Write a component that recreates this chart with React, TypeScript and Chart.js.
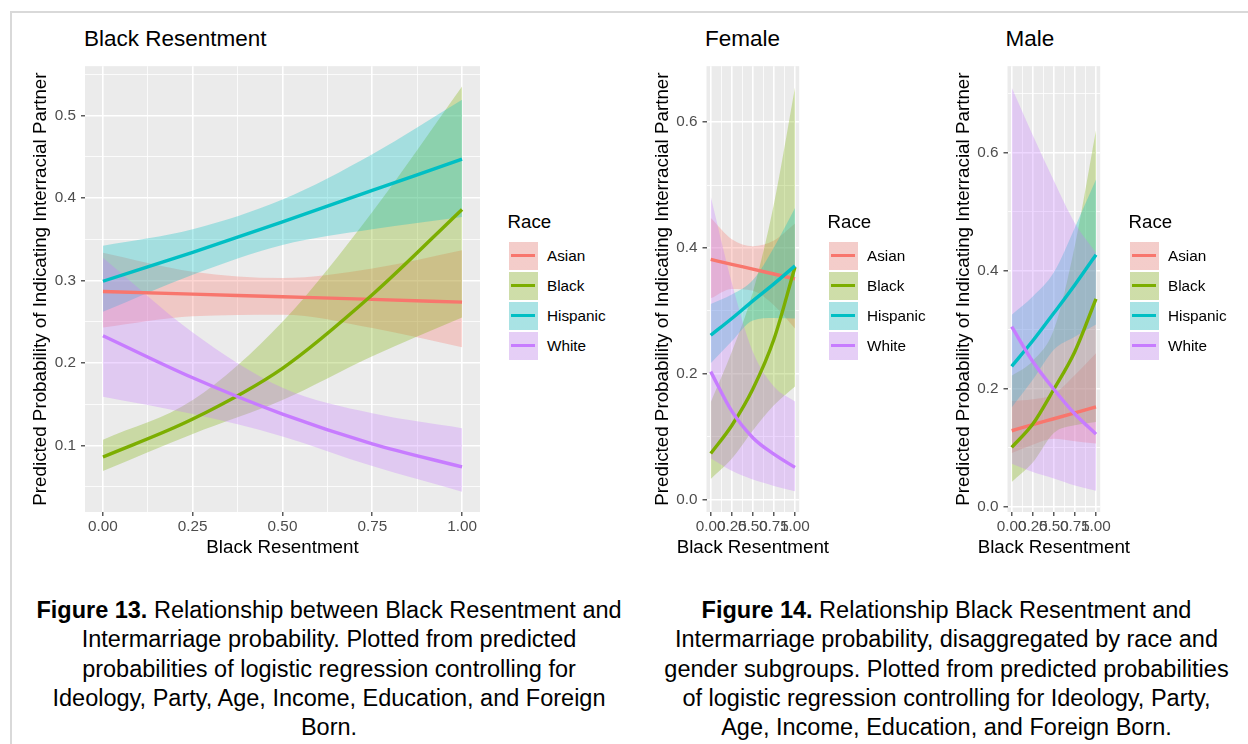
import React, { useEffect, useRef } from 'react';
import { Chart, registerables } from 'chart.js';

Chart.register(...registerables);

const FONT = '"Liberation Sans", Arimo, Arial, Helvetica, sans-serif';

// ---------------- data ----------------
const resentment = [0, 0.25, 0.5, 0.75, 1];
const raceNames = ['Asian', 'Black', 'Hispanic', 'White'];
const raceColors = ['#F8766D', '#7CAE00', '#00BFC4', '#C77CFF'];

const xMajorTicks = [0, 0.25, 0.5, 0.75, 1];
const xMinorTicks = [0.125, 0.375, 0.625, 0.875];
const yMajorAll = [0.1, 0.2, 0.3, 0.4, 0.5];
const yMinorAll = [0.05, 0.15, 0.25, 0.35, 0.45, 0.55];
const yMajorSex = [0, 0.2, 0.4, 0.6];
const yMinorFemale = [0.1, 0.3, 0.5];
const yMinorMale = [0.1, 0.3, 0.5, 0.7];

// Figure 13: all respondents
const allAsianFit = [0.2866, 0.2834, 0.2802, 0.277, 0.2737];
const allAsianLow = [0.243, 0.2565, 0.2585, 0.2424, 0.219];
const allAsianHigh = [0.3335, 0.3106, 0.303, 0.3146, 0.3367];
const allBlackFit = [0.086, 0.132, 0.1935, 0.2826, 0.386];
const allBlackLow = [0.069, 0.114, 0.155, 0.208, 0.255];
const allBlackHigh = [0.107, 0.155, 0.25, 0.383, 0.535];
const allHispanicFit = [0.299, 0.334, 0.371, 0.409, 0.447];
const allHispanicLow = [0.262, 0.307, 0.343, 0.362, 0.377];
const allHispanicHigh = [0.342, 0.362, 0.398, 0.453, 0.519];
const allWhiteFit = [0.233, 0.182, 0.138, 0.102, 0.074];
const allWhiteLow = [0.159, 0.138, 0.111, 0.075, 0.044];
const allWhiteHigh = [0.3275, 0.237, 0.17, 0.139, 0.121];

// Figure 14: female
const femAsianFit = [0.382, 0.374, 0.3665, 0.3587, 0.351];
const femAsianLow = [0.32, 0.335, 0.332, 0.309, 0.272];
const femAsianHigh = [0.448, 0.414, 0.403, 0.412, 0.439];
const femBlackFit = [0.0734, 0.118, 0.176, 0.255, 0.37];
const femBlackLow = [0.033, 0.065, 0.11, 0.15, 0.18];
const femBlackHigh = [0.155, 0.235, 0.33, 0.47, 0.655];
const femHispanicFit = [0.2614, 0.288, 0.316, 0.343, 0.3717];
const femHispanicLow = [0.217, 0.252, 0.285, 0.289, 0.288];
const femHispanicHigh = [0.311, 0.326, 0.349, 0.401, 0.4635];
const femWhiteFit = [0.2036, 0.1407, 0.0986, 0.0724, 0.0514];
const femWhiteLow = [0.066, 0.046, 0.032, 0.022, 0.0136];
const femWhiteHigh = [0.482, 0.345, 0.235, 0.18, 0.156];

// Figure 14: male
const maleAsianFit = [0.1287, 0.139, 0.149, 0.159, 0.169];
const maleAsianLow = [0.091, 0.105, 0.115, 0.111, 0.107];
const maleAsianHigh = [0.179, 0.182, 0.191, 0.223, 0.26];
const maleBlackFit = [0.1007, 0.14, 0.199, 0.263, 0.352];
const maleBlackLow = [0.042, 0.075, 0.125, 0.138, 0.1437];
const maleBlackHigh = [0.222, 0.247, 0.3, 0.443, 0.6376];
const maleHispanicFit = [0.2378, 0.281, 0.328, 0.376, 0.4268];
const maleHispanicLow = [0.168, 0.215, 0.266, 0.288, 0.3086];
const maleHispanicHigh = [0.325, 0.356, 0.397, 0.473, 0.554];
const maleWhiteFit = [0.305, 0.246, 0.199, 0.157, 0.123];
const maleWhiteLow = [0.073, 0.059, 0.048, 0.036, 0.027];
const maleWhiteHigh = [0.71, 0.629, 0.552, 0.48, 0.43];

type Band = { fit: number[]; low: number[]; high: number[] };

const allBands: Band[] = [
  { fit: allAsianFit, low: allAsianLow, high: allAsianHigh },
  { fit: allBlackFit, low: allBlackLow, high: allBlackHigh },
  { fit: allHispanicFit, low: allHispanicLow, high: allHispanicHigh },
  { fit: allWhiteFit, low: allWhiteLow, high: allWhiteHigh },
];
const femBands: Band[] = [
  { fit: femAsianFit, low: femAsianLow, high: femAsianHigh },
  { fit: femBlackFit, low: femBlackLow, high: femBlackHigh },
  { fit: femHispanicFit, low: femHispanicLow, high: femHispanicHigh },
  { fit: femWhiteFit, low: femWhiteLow, high: femWhiteHigh },
];
const maleBands: Band[] = [
  { fit: maleAsianFit, low: maleAsianLow, high: maleAsianHigh },
  { fit: maleBlackFit, low: maleBlackLow, high: maleBlackHigh },
  { fit: maleHispanicFit, low: maleHispanicLow, high: maleHispanicHigh },
  { fit: maleWhiteFit, low: maleWhiteLow, high: maleWhiteHigh },
];

const X_TITLE = 'Black Resentment';
const Y_TITLE = 'Predicted Probability of Indicating Interracial Partner';

// ---------------- helpers ----------------
function hexToRgba(hex: string, a: number) {
  const n = parseInt(hex.slice(1), 16);
  return `rgba(${(n >> 16) & 255},${(n >> 8) & 255},${n & 255},${a})`;
}

const AXIS_TITLE_SIZE = 18.8;

const panelBg = {
  id: 'panelBg',
  beforeDraw(chart: any) {
    const { ctx, chartArea: a } = chart;
    ctx.save();
    ctx.fillStyle = '#EBEBEB';
    ctx.fillRect(a.left, a.top, a.right - a.left, a.bottom - a.top);
    ctx.restore();
  },
};

// x-axis title drawn without Chart.js' maxWidth squeeze (ggplot lets it overflow)
const xTitlePlugin = {
  id: 'xTitleFree',
  afterDraw(chart: any) {
    const { ctx, chartArea: a } = chart;
    const xs = chart.scales.x;
    ctx.save();
    ctx.font = `${AXIS_TITLE_SIZE}px ${FONT}`;
    ctx.fillStyle = '#000000';
    ctx.textAlign = 'center';
    ctx.textBaseline = 'middle';
    ctx.fillText(X_TITLE, (a.left + a.right) / 2, xs.bottom - (AXIS_TITLE_SIZE * 1.2) / 2);
    ctx.restore();
  },
};

interface PanelProps {
  bands: Band[];
  yMin: number;
  yMax: number;
  yMajor: number[];
  yMinor: number[];
  yDigits: number;
  left: number;
  top: number;
  width: number;
  height: number;
  padL: number;
  padR: number;
  padT: number;
  padB: number;
  yAxisW: number;
  xAxisH: number;
}

function Panel(p: PanelProps) {
  const ref = useRef<HTMLCanvasElement>(null);
  useEffect(() => {
    if (!ref.current) return;
    const pts = (arr: number[]) => resentment.map((x, i) => ({ x, y: arr[i] }));
    const datasets: any[] = [];
    // lines (first index drawn last => White on top)
    for (let r = raceNames.length - 1; r >= 0; r--) {
      datasets.push({
        label: raceNames[r],
        data: pts(p.bands[r].fit),
        borderColor: raceColors[r],
        borderWidth: 3.4,
        fill: false,
        pointRadius: 0,
        cubicInterpolationMode: 'monotone',
      });
    }
    // ribbons
    for (let r = raceNames.length - 1; r >= 0; r--) {
      datasets.push({
        label: raceNames[r] + ' upper',
        data: pts(p.bands[r].high),
        borderWidth: 0,
        borderColor: 'rgba(0,0,0,0)',
        backgroundColor: hexToRgba(raceColors[r], 0.3),
        fill: '+1',
        pointRadius: 0,
        cubicInterpolationMode: 'monotone',
      });
      datasets.push({
        label: raceNames[r] + ' lower',
        data: pts(p.bands[r].low),
        borderWidth: 0,
        borderColor: 'rgba(0,0,0,0)',
        fill: false,
        pointRadius: 0,
        cubicInterpolationMode: 'monotone',
      });
    }
    const xMajSet = new Set(xMajorTicks);
    const yMajSet = new Set(p.yMajor);
    const chart = new Chart(ref.current, {
      type: 'line',
      data: { datasets },
      plugins: [panelBg, xTitlePlugin],
      options: {
        animation: false,
        responsive: false,
        maintainAspectRatio: false,
        devicePixelRatio: 1,
        events: [],
        layout: { padding: { left: p.padL, right: p.padR, top: p.padT, bottom: p.padB } },
        plugins: {
          legend: { display: false },
          tooltip: { enabled: false },
          filler: { drawTime: 'beforeDatasetsDraw', propagate: false },
        },
        scales: {
          x: {
            type: 'linear',
            min: -0.05,
            max: 1.05,
            afterBuildTicks: (s: any) => {
              s.ticks = [...xMajorTicks, ...xMinorTicks].sort((a, b) => a - b).map((v) => ({ value: v }));
            },
            afterFit: (s: any) => {
              s.height = p.xAxisH;
            },
            ticks: {
              autoSkip: false,
              maxRotation: 0,
              minRotation: 0,
              padding: 2,
              color: '#4D4D4D',
              font: { family: FONT, size: 15.3 },
              callback: (v: any) => (xMajSet.has(v) ? Number(v).toFixed(2) : ''),
            },
            grid: {
              color: '#FFFFFF',
              lineWidth: (c: any) => (c.tick && xMajSet.has(c.tick.value) ? 1.6 : 0.8),
              drawTicks: true,
              tickLength: 4,
              tickWidth: 1.2,
              tickColor: (c: any) => (c.tick && xMajSet.has(c.tick.value) ? '#333333' : 'rgba(0,0,0,0)'),
            },
            border: { display: false },
            title: { display: false },
          },
          y: {
            type: 'linear',
            min: p.yMin,
            max: p.yMax,
            afterBuildTicks: (s: any) => {
              s.ticks = [...p.yMajor, ...p.yMinor].sort((a, b) => a - b).map((v) => ({ value: v }));
            },
            afterFit: (s: any) => {
              s.width = p.yAxisW;
            },
            ticks: {
              autoSkip: false,
              padding: 5,
              color: '#4D4D4D',
              font: { family: FONT, size: 15.3 },
              callback: (v: any) => (yMajSet.has(v) ? Number(v).toFixed(p.yDigits) : ''),
            },
            grid: {
              color: '#FFFFFF',
              lineWidth: (c: any) => (c.tick && yMajSet.has(c.tick.value) ? 1.6 : 0.8),
              drawTicks: true,
              tickLength: 4,
              tickWidth: 1.2,
              tickColor: (c: any) => (c.tick && yMajSet.has(c.tick.value) ? '#333333' : 'rgba(0,0,0,0)'),
            },
            border: { display: false },
            title: {
              display: true,
              text: Y_TITLE,
              color: '#000000',
              font: { family: FONT, size: AXIS_TITLE_SIZE },
              padding: 0,
            },
          },
        },
      } as any,
    });
    return () => chart.destroy();
  }, []);
  return (
    <canvas
      ref={ref}
      width={p.width}
      height={p.height}
      style={{ position: 'absolute', left: p.left, top: p.top, width: p.width, height: p.height }}
    />
  );
}

function Text(props: { left: number; baseline: number; size: number; children: any; color?: string }) {
  const { left, baseline, size, children, color } = props;
  return (
    <div
      style={{
        position: 'absolute',
        left,
        top: baseline - 0.8465 * size,
        fontSize: size,
        lineHeight: `${size}px`,
        fontFamily: FONT,
        whiteSpace: 'nowrap',
        color: color || '#000',
      }}
    >
      {children}
    </div>
  );
}

function Legend(props: { left: number }) {
  const { left } = props;
  const keyTop = 241.5;
  return (
    <>
      <Text left={left - 1} baseline={229.3} size={18.7}>
        Race
      </Text>
      {raceNames.map((name, i) => {
        const top = keyTop + i * 30;
        return (
          <React.Fragment key={name}>
            <div
              style={{
                position: 'absolute',
                left,
                top,
                width: 29,
                height: 28.6,
                background: `linear-gradient(${hexToRgba(raceColors[i], 0.3)}, ${hexToRgba(raceColors[i], 0.3)}), #F2F2F2`,
              }}
            >
              <div
                style={{
                  position: 'absolute',
                  left: 2.5,
                  width: 24,
                  top: 14.3 - 1.7,
                  height: 3.4,
                  background: raceColors[i],
                }}
              />
            </div>
            <Text left={left + 38.5} baseline={top + 14.3 + 5.5} size={15.3}>
              {name}
            </Text>
          </React.Fragment>
        );
      })}
    </>
  );
}

const captionStyle = (center: number): React.CSSProperties => ({
  position: 'absolute',
  left: center - 400,
  width: 800,
  top: 596.2,
  textAlign: 'center',
  fontSize: 23.5,
  lineHeight: '29.3px',
  fontFamily: FONT,
  color: '#000',
  whiteSpace: 'nowrap',
});

export default function App() {
  return (
    <div
      style={{
        position: 'absolute',
        left: 0,
        top: 0,
        width: 1248,
        height: 744,
        background: '#FFFFFF',
        overflow: 'hidden',
        fontFamily: FONT,
      }}
    >
      <div
        style={{
          position: 'absolute',
          left: 10,
          top: 11,
          width: 1400,
          height: 900,
          borderTop: '2px solid #D9D9D9',
          borderLeft: '2px solid #D9D9D9',
        }}
      />

      <Panel
        bands={allBands}
        yMin={0.0194}
        yMax={0.5596}
        yMajor={yMajorAll}
        yMinor={yMinorAll}
        yDigits={1}
        left={20}
        top={52}
        width={470}
        height={520}
        padL={9.8}
        padR={10}
        padT={10}
        padB={13}
        yAxisW={55.2}
        xAxisH={47}
      />
      <Panel
        bands={femBands}
        yMin={-0.0195}
        yMax={0.689}
        yMajor={yMajorSex}
        yMinor={yMinorFemale}
        yDigits={1}
        left={640}
        top={52}
        width={220}
        height={520}
        padL={11.1}
        padR={60.8}
        padT={10}
        padB={13}
        yAxisW={55.4}
        xAxisH={47}
      />
      <Panel
        bands={maleBands}
        yMin={-0.0089}
        yMax={0.7461}
        yMajor={yMajorSex}
        yMinor={yMinorMale}
        yDigits={1}
        left={940}
        top={52}
        width={220}
        height={520}
        padL={12.1}
        padR={59.8}
        padT={10}
        padB={13}
        yAxisW={55.4}
        xAxisH={47}
      />

      <Text left={84} baseline={47} size={22.5}>
        Black Resentment
      </Text>
      <Text left={705} baseline={47} size={22.5}>
        Female
      </Text>
      <Text left={1005.5} baseline={47} size={22.5}>
        Male
      </Text>

      <Legend left={508.5} />
      <Legend left={828.5} />
      <Legend left={1129.5} />

      <div style={captionStyle(329)}>
        <b>Figure 13.</b> Relationship between Black Resentment and
        <br />
        Intermarriage probability. Plotted from predicted
        <br />
        probabilities of logistic regression controlling for
        <br />
        Ideology, Party, Age, Income, Education, and Foreign
        <br />
        Born.
      </div>
      <div style={captionStyle(946.5)}>
        <b>Figure 14.</b> Relationship Black Resentment and
        <br />
        Intermarriage probability, disaggregated by race and
        <br />
        gender subgroups. Plotted from predicted probabilities
        <br />
        of logistic regression controlling for Ideology, Party,
        <br />
        Age, Income, Education, and Foreign Born.
      </div>
    </div>
  );
}
